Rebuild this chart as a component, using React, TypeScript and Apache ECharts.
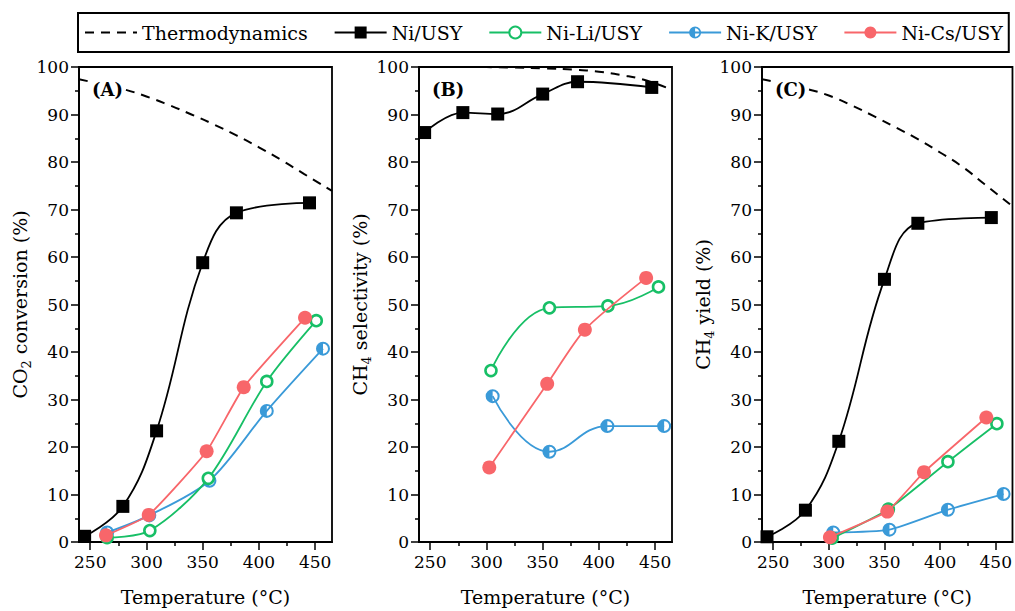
import React, { useEffect, useRef } from "react";
import * as echarts from "echarts";

const LEGEND_NAMES = ["Thermodynamics", "Ni/USY", "Ni-Li/USY", "Ni-K/USY", "Ni-Cs/USY"];
const X_TICKS = [250, 300, 350, 400, 450];
const X_MINOR = [275, 325, 375, 425];
const PANEL_LABELS = ["(A)", "(B)", "(C)"];
const Y_TITLES = ["CO{s|2} conversion (%)", "CH{s|4} selectivity (%)", "CH{s|4} yield (%)"];

// Panel A: CO2 conversion
const thermoT_A = [240, 260, 280, 300, 320, 340, 360, 380, 400, 420, 440, 465];
const thermoA = [97.4, 96.4, 95.3, 93.8, 92.0, 90.0, 87.9, 85.6, 83.1, 80.4, 77.5, 73.9];
const niT_A = [245, 279, 309, 350, 380, 445];
const niA = [1.2, 7.5, 23.4, 58.8, 69.3, 71.4];
const liT_A = [265, 303, 355, 407, 451];
const liA = [0.9, 2.4, 13.4, 33.8, 46.6];
const kT_A = [265, 302.5, 356, 407, 457];
const kA = [2.0, 5.6, 12.9, 27.6, 40.7];
const csT_A = [264, 302, 353.5, 386.5, 441];
const csA = [1.4, 5.7, 19.1, 32.6, 47.2];

// Panel B: CH4 selectivity
const thermoT_B = [240, 280, 320, 350, 380, 400, 420, 440, 465];
const thermoB = [100, 100, 99.9, 99.7, 99.4, 99.0, 98.3, 97.3, 95.2];
const niT_B = [245, 279, 310, 350, 381, 447];
const niB = [86.2, 90.4, 90.1, 94.3, 96.9, 95.7];
const liT_B = [304, 356, 408, 453];
const liB = [36.1, 49.3, 49.7, 53.7];
const kT_B = [305.5, 356, 407.5, 458];
const kB = [30.7, 19.0, 24.4, 24.4];
const csT_B = [302.5, 354, 387.5, 442];
const csB = [15.7, 33.3, 44.7, 55.6];

// Panel C: CH4 yield
const thermoT_C = [240, 260, 280, 300, 320, 340, 360, 380, 400, 420, 440, 465];
const thermoC = [97.4, 96.5, 95.4, 94.0, 92.0, 89.7, 87.3, 84.8, 82.0, 79.0, 75.3, 70.7];
const niT_C = [244.5, 279, 309, 350, 380, 446];
const niC = [1.1, 6.7, 21.2, 55.3, 67.1, 68.3];
const liT_C = [303, 353.5, 407, 451];
const liC = [0.8, 6.9, 16.9, 24.9];
const kT_C = [304, 354.5, 407, 457];
const kC = [2.0, 2.6, 6.8, 10.1];
const csT_C = [301, 352.5, 385.5, 441.5];
const csC = [1.0, 6.4, 14.7, 26.2];

const FONT = "DejaVu Serif";
const GREEN = "#17BF66";
const BLUE = "#3A9AD8";
const RED = "#F8666A";
const HALF =
  "path://M10 0A10 10 0 1 1 10 20A10 10 0 1 1 10 0ZM10 2.9L10 17.1A7.1 7.1 0 0 0 10 2.9Z";

const zip = (xs: number[], ys: number[]) => xs.map((x, i) => [x, ys[i]]);

const PANELS = [
  { thermo: zip(thermoT_A, thermoA), ni: zip(niT_A, niA), li: zip(liT_A, liA), k: zip(kT_A, kA), cs: zip(csT_A, csA), sm: 0.3 },
  { thermo: zip(thermoT_B, thermoB), ni: zip(niT_B, niB), li: zip(liT_B, liB), k: zip(kT_B, kB), cs: zip(csT_B, csB), sm: 0.45 },
  { thermo: zip(thermoT_C, thermoC), ni: zip(niT_C, niC), li: zip(liT_C, liC), k: zip(kT_C, kC), cs: zip(csT_C, csC), sm: 0.2 },
];

const GRID_LEFTS = [79, 419, 762];
const GRID_W = 253;

export default function App() {
  const ref = useRef<HTMLDivElement>(null);
  useEffect(() => {
    if (!ref.current) return;
    const chart = echarts.init(ref.current, undefined, { renderer: "svg" });
    const grids = GRID_LEFTS.map((l) => ({
      left: l,
      top: 67,
      width: GRID_W,
      height: 477,
      show: true,
      borderColor: "#000",
      borderWidth: 1.8,
      backgroundColor: "transparent",
    }));
    const xAxes: any[] = [];
    GRID_LEFTS.forEach((_, i) => {
      xAxes.push({
        type: "value",
        gridIndex: i,
        position: "bottom",
        min: 240,
        max: 465,
        splitLine: { show: false },
        axisLine: { show: true, onZero: false, lineStyle: { color: "#000", width: 1.8 } },
        axisTick: { show: true, customValues: X_TICKS, length: 8, lineStyle: { color: "#000", width: 1.5 } },
        axisLabel: { customValues: X_TICKS, margin: 11, color: "#000", fontFamily: FONT, fontSize: 17 },
        name: "Temperature (°C)",
        nameLocation: "middle",
        nameGap: 45,
        nameTextStyle: { color: "#000", fontFamily: FONT, fontSize: 19 },
      });
    });
    GRID_LEFTS.forEach((_, i) => {
      xAxes.push({
        type: "value",
        gridIndex: i,
        position: "bottom",
        offset: 0,
        min: 240,
        max: 465,
        splitLine: { show: false },
        axisLine: { show: false },
        axisTick: { show: true, customValues: X_MINOR, length: 4, lineStyle: { color: "#000", width: 1.5 } },
        axisLabel: { show: false },
      });
    });
    const yAxes = GRID_LEFTS.map((_, i) => ({
      type: "value",
      gridIndex: i,
      min: 0,
      max: 100,
      interval: 10,
      splitLine: { show: false },
      axisLine: { show: true, lineStyle: { color: "#000", width: 1.8 } },
      axisTick: { show: true, length: 8, lineStyle: { color: "#000", width: 1.5 } },
      minorTick: { show: true, splitNumber: 2, length: 4, lineStyle: { color: "#000", width: 1.5 } },
      axisLabel: { margin: 10, color: "#000", fontFamily: FONT, fontSize: 17 },
      name: Y_TITLES[i],
      nameLocation: "middle",
      nameRotate: 90,
      nameGap: 36,
      nameTextStyle: {
        color: "#000",
        fontFamily: FONT,
        fontSize: 19,
        lineHeight: 26,
        rich: {
          s: { fontSize: 13, fontFamily: FONT, color: "#000", verticalAlign: "bottom", lineHeight: 13 },
        },
      },
    }));

    const series: any[] = [];
    PANELS.forEach((p, i) => {
      series.push({
        name: "Thermodynamics",
        type: "line",
        xAxisIndex: i,
        yAxisIndex: i,
        data: p.thermo,
        smooth: 0.5,
        symbol: "none",
        lineStyle: { color: "#000", width: 2, type: [9, 7] },
        z: 2,
      });
      series.push({
        name: "Ni/USY",
        type: "line",
        xAxisIndex: i,
        yAxisIndex: i,
        data: p.ni,
        smooth: 0.4,
        symbol: "rect",
        symbolSize: 13,
        itemStyle: { color: "#000" },
        lineStyle: { color: "#000", width: 1.8 },
        z: 3,
      });
      series.push({
        name: "Ni-K/USY",
        type: "line",
        xAxisIndex: i,
        yAxisIndex: i,
        data: p.k,
        smooth: p.sm,
        symbol: HALF,
        symbolSize: 14,
        itemStyle: { color: BLUE },
        lineStyle: { color: BLUE, width: 1.8 },
        z: 3,
      });
      series.push({
        name: "Ni-Li/USY",
        type: "line",
        xAxisIndex: i,
        yAxisIndex: i,
        data: p.li,
        smooth: p.sm,
        symbol: "circle",
        symbolSize: 11,
        itemStyle: { color: "#fff", borderColor: GREEN, borderWidth: 2.6 },
        lineStyle: { color: GREEN, width: 1.8 },
        z: 4,
      });
      series.push({
        name: "Ni-Cs/USY",
        type: "line",
        xAxisIndex: i,
        yAxisIndex: i,
        data: p.cs,
        smooth: p.sm * 0.5,
        symbol: "circle",
        symbolSize: 14,
        itemStyle: { color: RED },
        lineStyle: { color: RED, width: 1.8 },
        z: 5,
      });
    });

    const graphics = PANEL_LABELS.map((t, i) => ({
      type: "text",
      x: GRID_LEFTS[i] + 11,
      y: 79,
      z: 100,
      style: {
        text: t,
        fill: "#000",
        font: `bold 18px "${FONT}"`,
        backgroundColor: "#fff",
        padding: [1, 2],
      },
    }));

    chart.setOption({
      animation: false,
      backgroundColor: "#fff",
      legend: {
        data: [
          { name: LEGEND_NAMES[0], itemStyle: { color: "rgba(0,0,0,0)", borderWidth: 0 } },
          LEGEND_NAMES[1],
          LEGEND_NAMES[2],
          LEGEND_NAMES[3],
          LEGEND_NAMES[4],
        ],
        left: 78,
        top: 13,
        width: 960,
        padding: [10, 6, 10, 6],
        borderColor: "#000",
        borderWidth: 2,
        itemWidth: 52,
        itemHeight: 15,
        itemGap: 26,
        textStyle: { color: "#000", fontFamily: FONT, fontSize: 19 },
      },
      grid: grids,
      xAxis: xAxes,
      yAxis: yAxes,
      series,
      graphic: graphics,
    });
    return () => chart.dispose();
  }, []);
  return (
    <div
      ref={ref}
      style={{ position: "fixed", left: 0, top: 0, width: 1015, height: 611, background: "#fff" }}
    />
  );
}
